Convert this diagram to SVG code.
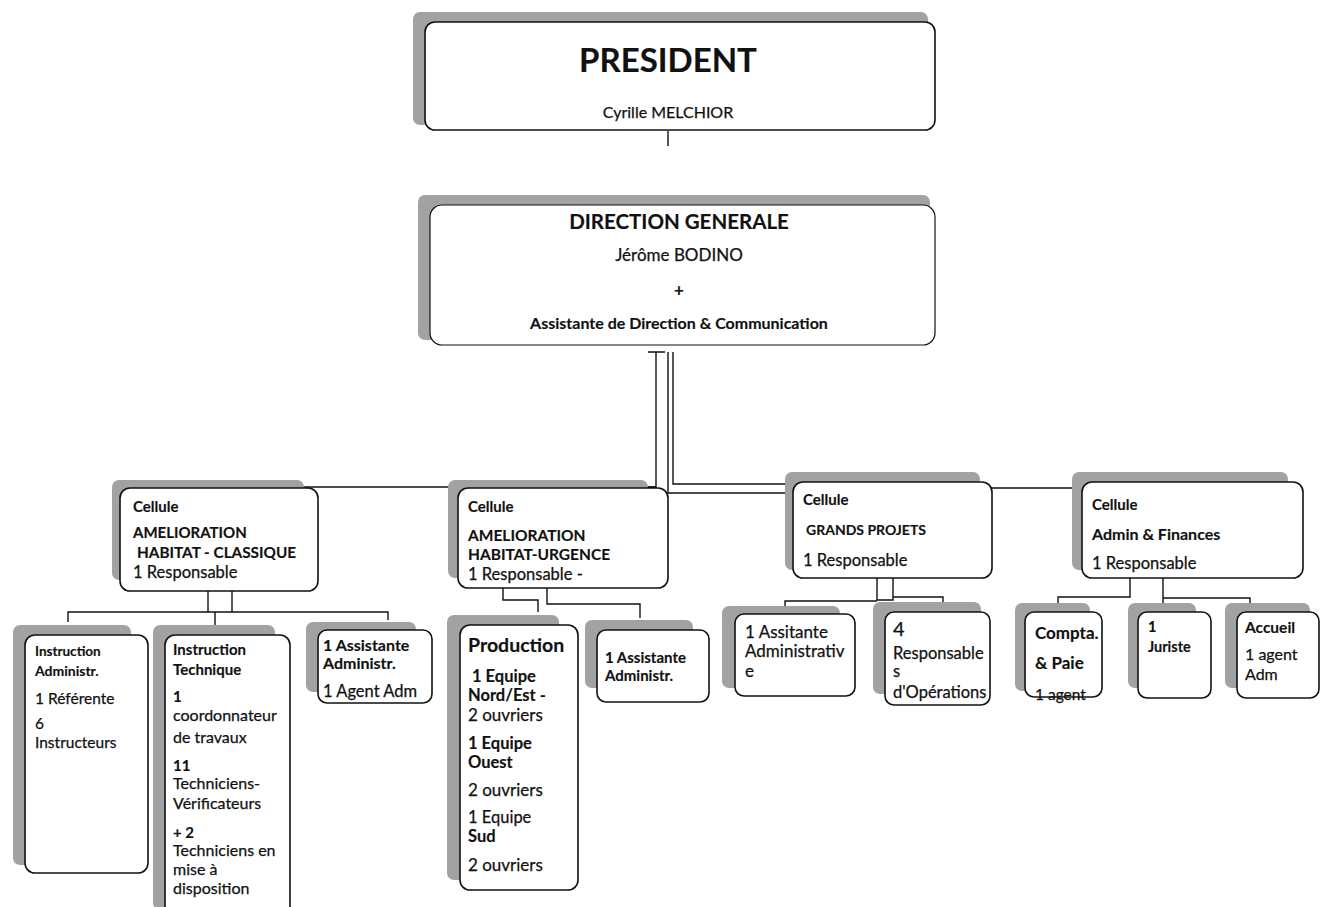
<svg xmlns="http://www.w3.org/2000/svg" width="1320" height="907" viewBox="0 0 1320 907">
<style>
.sh{fill:#a2a2a2}
.bx{fill:#fff;stroke:#111;stroke-width:1.6}
.t{font-family:Lato,"Liberation Sans",sans-serif;fill:#111;font-size:13px;stroke:#111;stroke-width:0.25}
.b{font-weight:bold;stroke-width:0.15}
.m{text-anchor:middle}
.c{stroke:#111;stroke-width:1.4;fill:none}
</style>
<rect width="1320" height="907" fill="#fff"/>
<g id="connectors">
<line class="c" x1="668" y1="131" x2="668" y2="146"/>
<path class="c" d="M648,352 H665 M656,352 V487 H645"/>
<path class="c" d="M668,352 V493 H785 M673,352 V484 H785"/>
<path class="c" d="M300,487 H656"/>
<path class="c" d="M900,488 H1075"/>
<path class="c" d="M208,591 V612 M232,591 V612 M68,622 V612 H388 V620 M215,612 V626"/>
<path class="c" d="M503,588 V600 H538 V612 M547,588 V604 H640 V618"/>
<path class="c" d="M877,578 V600 H893 V578 M785,608 V601 H877 M893,597 H943 V604"/>
<path class="c" d="M1130,578 V597 H1058 V606 M1163,578 V598 H1250 V606 M1163,590 V606"/>
</g>
<g id="president">
<rect class="sh" x="413" y="12" width="515" height="113" rx="7"/>
<rect class="bx" x="425" y="22" width="510" height="108" rx="10"/>
<text class="t b m" x="668" y="72" style="font-size:33px">PRESIDENT</text>
<text class="t m" x="668" y="118" style="font-size:16px">Cyrille MELCHIOR</text>
</g>
<g id="direction">
<rect class="sh" x="418" y="195" width="512" height="145" rx="7"/>
<rect class="bx" x="430" y="205" width="505" height="140" rx="12" style="stroke-width:1.2"/>
<text class="t b m" x="679" y="229" style="font-size:20.5px">DIRECTION GENERALE</text>
<text class="t m" x="679" y="261" style="font-size:17px">Jérôme BODINO</text>
<text class="t b m" x="679" y="296" style="font-size:17px">+</text>
<text class="t b m" x="679" y="329" style="font-size:16px">Assistante de Direction &amp; Communication</text>
</g>
<g id="cell-classique">
<rect class="sh" x="112" y="480" width="192" height="100" rx="7"/>
<rect class="bx" x="120" y="488" width="198" height="103" rx="10"/>
<text class="t b" x="133" y="512" style="font-size:15px">Cellule</text>
<text class="t b" x="133" y="538" style="font-size:15px">AMELIORATION</text>
<text class="t b" x="137" y="558" style="font-size:15.3px">HABITAT - CLASSIQUE</text>
<text class="t" x="133" y="578" style="font-size:16.5px">1 Responsable</text>
</g>
<g id="cell-urgence">
<rect class="sh" x="448" y="480" width="200" height="98" rx="7"/>
<rect class="bx" x="458" y="488" width="210" height="100" rx="10"/>
<text class="t b" x="468" y="512" style="font-size:15px">Cellule</text>
<text class="t b" x="468" y="541" style="font-size:15.5px">AMELIORATION</text>
<text class="t b" x="468" y="560" style="font-size:15.5px">HABITAT-URGENCE</text>
<text class="t" x="468" y="580" style="font-size:16.5px">1 Responsable  -</text>
</g>
<g id="cell-grands-projets">
<rect class="sh" x="785" y="472" width="195" height="98" rx="7"/>
<rect class="bx" x="793" y="482" width="199" height="96" rx="10"/>
<text class="t b" x="803" y="505" style="font-size:15px">Cellule</text>
<text class="t b" x="806" y="535" style="font-size:14px">GRANDS PROJETS</text>
<text class="t" x="803" y="566" style="font-size:16.5px">1 Responsable</text>
</g>
<g id="cell-admin-finances">
<rect class="sh" x="1072" y="472" width="216" height="98" rx="7"/>
<rect class="bx" x="1082" y="482" width="221" height="96" rx="10"/>
<text class="t b" x="1092" y="510" style="font-size:15px">Cellule</text>
<text class="t b" x="1092" y="540" style="font-size:16px">Admin &amp; Finances</text>
<text class="t" x="1092" y="569" style="font-size:16.5px">1 Responsable</text>
</g>
<g id="instruction-admin">
<rect class="sh" x="13" y="625" width="118" height="240" rx="7"/>
<rect class="bx" x="25" y="635" width="123" height="238" rx="10"/>
<text class="t b" x="35" y="656" style="font-size:13.5px">Instruction</text>
<text class="t b" x="35" y="676" style="font-size:14px">Administr.</text>
<text class="t" x="35" y="704" style="font-size:15.5px">1 Référente</text>
<text class="t" x="35" y="729" style="font-size:15.5px">6</text>
<text class="t" x="35" y="748" style="font-size:15.5px">Instructeurs</text>
</g>
<g id="instruction-technique">
<rect class="sh" x="153" y="625" width="122" height="285" rx="7"/>
<rect class="bx" x="165" y="635" width="125" height="285" rx="10"/>
<text class="t b" x="173" y="655" style="font-size:15px">Instruction</text>
<text class="t b" x="173" y="675" style="font-size:15px">Technique</text>
<text class="t b" x="173" y="702" style="font-size:15px">1</text>
<text class="t" x="173" y="721" style="font-size:16px">coordonnateur</text>
<text class="t" x="173" y="743" style="font-size:16px">de travaux</text>
<text class="t b" x="173" y="771" style="font-size:15px">11</text>
<text class="t" x="173" y="789" style="font-size:16px">Techniciens-</text>
<text class="t" x="173" y="809" style="font-size:16px">Vérificateurs</text>
<text class="t b" x="173" y="838" style="font-size:15px">+ 2</text>
<text class="t" x="173" y="856" style="font-size:16px">Techniciens en</text>
<text class="t" x="173" y="875" style="font-size:16px">mise à</text>
<text class="t" x="173" y="894" style="font-size:16px">disposition</text>
</g>
<g id="assistante-classique">
<rect class="sh" x="306" y="622" width="110" height="70" rx="7"/>
<rect class="bx" x="318" y="630" width="114" height="73" rx="9"/>
<text class="t b" x="323" y="651" style="font-size:16px">1 Assistante</text>
<text class="t b" x="323" y="669" style="font-size:16px">Administr.</text>
<text class="t" x="323" y="697" style="font-size:16.5px">1 Agent Adm</text>
</g>
<g id="production">
<rect class="sh" x="447" y="615" width="112" height="265" rx="7"/>
<rect class="bx" x="460" y="625" width="118" height="265" rx="10"/>
<text class="t b" x="468" y="652" style="font-size:19.5px">Production</text>
<text class="t b" x="472" y="682" style="font-size:16.5px">1 Equipe</text>
<text class="t b" x="468" y="701" style="font-size:16.5px">Nord/Est -</text>
<text class="t" x="468" y="721" style="font-size:17px">2 ouvriers</text>
<text class="t b" x="468" y="749" style="font-size:16.5px">1 Equipe</text>
<text class="t b" x="468" y="768" style="font-size:16.5px">Ouest</text>
<text class="t" x="468" y="796" style="font-size:17px">2 ouvriers</text>
<text class="t" x="468" y="823" style="font-size:16.5px">1 Equipe</text>
<text class="t b" x="468" y="842" style="font-size:16.5px">Sud</text>
<text class="t" x="468" y="871" style="font-size:17px">2 ouvriers</text>
</g>
<g id="assistante-urgence">
<rect class="sh" x="585" y="620" width="108" height="68" rx="7"/>
<rect class="bx" x="597" y="630" width="112" height="72" rx="9"/>
<text class="t b" x="605" y="663" style="font-size:15px">1 Assistante</text>
<text class="t b" x="605" y="681" style="font-size:15px">Administr.</text>
</g>
<g id="assitante-administrative">
<rect class="sh" x="722" y="606" width="118" height="82" rx="7"/>
<rect class="bx" x="735" y="614" width="120" height="82" rx="9"/>
<text class="t" x="745" y="638" style="font-size:17px">1 Assitante</text>
<text class="t" x="745" y="657" style="font-size:17px">Administrativ</text>
<text class="t" x="745" y="677" style="font-size:17px">e</text>
</g>
<g id="responsables-operations">
<rect class="sh" x="873" y="602" width="108" height="92" rx="7"/>
<rect class="bx" x="885" y="612" width="105" height="93" rx="9"/>
<text class="t" x="893" y="636" style="font-size:20px">4</text>
<text class="t" x="893" y="659" style="font-size:16.5px">Responsable</text>
<text class="t" x="893" y="677" style="font-size:16.5px">s</text>
<text class="t" x="893" y="698" style="font-size:16.5px">d'Opérations</text>
</g>
<g id="compta-paie">
<rect class="sh" x="1015" y="603" width="75" height="88" rx="7"/>
<rect class="bx" x="1025" y="612" width="77" height="85" rx="9"/>
<text class="t b" x="1035" y="639" style="font-size:17px">Compta.</text>
<text class="t b" x="1035" y="669" style="font-size:17px">&amp; Paie</text>
<text class="t" x="1035" y="700" style="font-size:15.5px">1 agent</text>
</g>
<g id="juriste">
<rect class="sh" x="1128" y="603" width="68" height="85" rx="7"/>
<rect class="bx" x="1138" y="612" width="73" height="86" rx="9"/>
<text class="t b" x="1148" y="632" style="font-size:14.5px">1</text>
<text class="t b" x="1148" y="652" style="font-size:14.5px">Juriste</text>
</g>
<g id="accueil">
<rect class="sh" x="1225" y="603" width="85" height="85" rx="7"/>
<rect class="bx" x="1237" y="612" width="82" height="86" rx="9"/>
<text class="t b" x="1245" y="633" style="font-size:15.5px">Accueil</text>
<text class="t" x="1245" y="660" style="font-size:16px">1 agent</text>
<text class="t" x="1245" y="680" style="font-size:16px">Adm</text>
</g>
</svg>
